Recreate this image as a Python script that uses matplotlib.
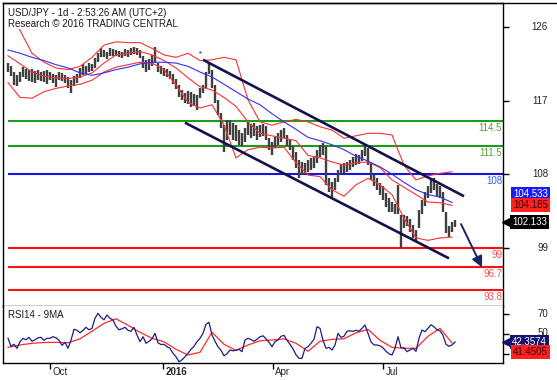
import numpy as np
import matplotlib.pyplot as plt
from matplotlib.transforms import blended_transform_factory

plt.rcParams['font.family'] = ['Liberation Sans', 'DejaVu Sans']

# daily bars (one entry per bar), USD/JPY
high = [121.6, 121.2, 120.5, 120.1, 120.5, 121.1, 120.9, 120.8, 120.9, 120.6,
        120.8, 120.5, 120.6, 120.8, 120.5, 120.3, 120.1, 120.5, 120.4, 120.1,
        119.9, 119.5, 120.0, 120.3, 121.0, 121.5, 121.2, 121.6, 121.5, 122.2,
        122.8, 123.4, 123.2, 123.0, 123.4, 123.3, 123.2, 123.1, 123.0, 123.3,
        123.2, 123.4, 123.6, 123.4, 123.2, 122.5, 122.0, 122.1, 122.6, 123.6,
        121.6, 121.2, 121.0, 120.9, 120.6, 120.3, 119.7, 118.9, 118.3, 117.9,
        118.2, 118.1, 117.8, 117.7, 118.5, 118.9, 120.5, 121.7, 120.8, 118.9,
        117.1, 115.5, 114.0, 114.6, 114.6, 114.3, 114.0, 113.4, 113.0, 113.7,
        114.4, 114.1, 114.3, 113.9, 114.0, 114.1, 113.9, 112.4, 111.9, 112.6,
        113.0, 113.4, 113.7, 112.8, 112.3, 111.4, 110.7, 109.7, 109.5, 109.4,
        109.7, 110.0, 110.1, 111.0, 111.6, 111.8, 111.4, 107.5, 107.0, 107.5,
        108.5, 109.2, 109.4, 109.5, 109.7, 110.1, 110.5, 110.3, 111.0, 111.6,
        111.2, 109.4, 107.9, 107.5, 106.9, 106.6, 105.7, 105.1, 104.6, 104.4,
        106.7, 103.0, 103.0, 102.9, 102.5, 101.8, 101.2, 103.6, 104.8, 105.8,
        106.6, 107.3, 107.5, 106.8, 106.6, 105.8, 103.4, 101.7, 102.1, 102.4]
low = [120.5, 120.0, 118.9, 118.8, 119.3, 119.9, 119.7, 119.4, 119.3, 119.2,
       119.5, 119.4, 119.3, 119.0, 119.5, 119.2, 118.7, 119.5, 119.4, 119.2,
       118.5, 117.9, 118.8, 119.2, 119.8, 120.1, 120.3, 120.5, 120.6, 121.0,
       121.7, 122.3, 122.3, 122.1, 122.5, 122.5, 122.5, 122.3, 122.2, 122.5,
       122.3, 122.6, 122.7, 122.6, 122.2, 121.0, 120.5, 120.8, 121.2, 121.6,
       120.5, 120.3, 120.0, 119.9, 119.7, 119.0, 118.4, 117.5, 117.1, 116.7,
       116.6, 116.2, 116.3, 115.9, 117.3, 117.9, 118.5, 120.3, 118.5, 116.7,
       115.2, 113.7, 110.7, 112.2, 112.8, 112.2, 112.1, 111.6, 111.4, 111.9,
       112.8, 112.4, 112.7, 112.2, 112.6, 112.7, 112.2, 111.0, 110.3, 111.2,
       111.6, 111.9, 112.4, 111.4, 111.0, 109.7, 108.8, 107.5, 107.9, 108.0,
       108.3, 108.5, 108.8, 109.4, 110.1, 110.3, 106.7, 105.8, 105.2, 106.1,
       107.0, 108.0, 108.1, 108.3, 108.5, 108.9, 109.1, 109.2, 109.6, 110.2,
       109.1, 107.3, 106.6, 106.1, 105.5, 104.8, 104.0, 103.4, 103.4, 103.1,
       103.1, 99.0, 101.4, 101.7, 100.9, 100.2, 99.7, 101.4, 103.1, 104.1,
       105.1, 105.7, 106.1, 105.3, 105.1, 103.4, 100.8, 100.3, 100.9, 101.5]
last_close = 102.133

# indicators, one value every 4 bars
ind_step = 4
bb_upper = [128.1, 125.6, 122.8, 121.7, 121.0, 120.8, 121.2, 122.3, 123.8, 124.2,
            124.1, 124.1, 123.4, 122.6, 122.3, 122.8, 121.9, 122.0, 122.3, 122.0,
            117.1, 114.4, 114.0, 114.4, 114.7, 114.4, 113.8, 113.4, 112.4, 112.7,
            113.0, 113.0, 112.8, 109.1, 107.3, 107.8, 108.1, 108.3]
bb_mid = [122.5, 121.5, 120.5, 120.0, 119.8, 119.7, 119.9, 120.4, 121.6, 122.6,
          122.8, 123.0, 122.6, 121.9, 121.0, 119.8, 118.7, 118.3, 117.4, 116.3,
          114.4, 113.0, 112.7, 112.4, 112.1, 110.3, 110.0, 109.5, 109.1, 109.4,
          109.5, 108.8, 107.3, 106.4, 105.5, 104.6, 104.5, 104.185]
bb_lower = [119.2, 117.4, 117.3, 118.1, 118.5, 118.8, 119.0, 119.5, 120.5, 121.1,
            121.4, 121.7, 121.6, 120.8, 118.9, 116.8, 116.1, 116.5, 114.0, 110.0,
            111.0, 111.3, 111.2, 111.3, 109.4, 107.9, 107.7, 106.1, 105.3, 106.7,
            107.5, 106.7, 105.5, 102.6, 100.2, 99.9, 100.2, 100.3]
ma_blue = [123.2, 122.8, 122.3, 121.9, 121.4, 121.0, 120.4, 120.1, 120.4, 120.8,
           121.1, 121.5, 121.7, 121.7, 121.6, 121.2, 120.5, 119.9, 119.0, 118.1,
           117.2, 116.5, 115.4, 114.4, 113.5, 112.5, 112.1, 111.6, 111.0, 110.2,
           109.6, 108.9, 108.0, 107.0, 106.1, 105.5, 105.2, 104.533]

rsi = [46, 38, 40, 36, 42.6, 46, 44.5, 47, 43, 44.5,
       46.5, 47, 44, 46, 46, 47.6, 46.5, 44, 39, 42,
       36, 44, 55, 54, 51.5, 54, 57, 54.5, 56, 66,
       71, 67, 64.5, 69.3, 66, 64.3, 58, 54.5, 55.5, 57,
       54, 53, 57, 49.3, 42.6, 47.6, 41, 43, 45.5, 51,
       41.5, 39.8, 40, 37.6, 36, 31, 27.5, 22.5, 24.5, 27.5,
       31, 35, 38, 42.6, 46, 51, 60, 62, 49.3, 43,
       37.5, 34, 28.5, 30.5, 34.3, 33.5, 34, 35, 32.6, 44.3,
       46, 44.8, 43, 45, 47.5, 48.5, 45.5, 42, 37.6, 42.6,
       44.3, 48, 49, 44, 40, 35.5, 29.5, 26, 26, 36,
       37.6, 41, 45, 57.6, 56, 44, 36, 37, 34.3, 39.3,
       51, 47, 48, 53, 53.5, 53, 54, 53, 56, 59.3,
       51, 42.5, 39.3, 39.3, 38.5, 36.5, 33, 30.5, 29.3, 36,
       47.6, 36.5, 36.5, 32.6, 34.3, 36, 33, 46, 54.3, 52.6,
       56, 59.5, 57.5, 54.5, 53.5, 49, 40, 38, 39.3, 42.3574]
rsi_ma = [37, 39.3, 41, 41.8, 42, 41.5, 45.5, 53, 61, 65.5,
          59, 52, 46, 42.5, 35, 29.3, 32, 52, 40, 34,
          39.3, 43.5, 44.3, 45.5, 41, 33, 43, 45, 45.5, 51.5,
          55, 44, 37, 36, 36, 48, 56, 41.4505]

levels = [114.5, 111.5, 108, 99, 96.7, 93.8]
level_text = ['114.5', '111.5', '108', '99', '96.7', '93.8']
level_color = ['#1c9c1c', '#1c9c1c', '#1414e6', '#ff1010', '#ff1010', '#ff1010']
level_font = ['#5f9c34', '#5f9c34', '#3a5cff', '#ff5050', '#ff5050', '#ff5050']

# trend channel and target arrow (bar index, price)
channel_top = [(65, 122.0), (152, 105.3)]
channel_bottom = [(59, 114.3), (147, 97.7)]
target_arrow = [(151, 101.9), (158, 96.6)]

month_pos = [14, 51.7, 88.3, 125]
month_lab = ['Oct', '2016', 'Apr', 'Jul']
price_ticks = [99, 108, 117, 126]
rsi_ticks = [30, 50, 70]
rsi_tick_lab = ['', '50', '70']   # 30 sits behind the value tags

W, H = 557, 380
fig = plt.figure(figsize=(W / 100, H / 100), dpi=100)
ax = fig.add_axes([3 / W, 1 - 306 / H, 500 / W, 303 / H])
ax2 = fig.add_axes([3 / W, 1 - 363 / H, 500 / W, 57 / H])
navy = '#12124e'

# price panel
bars = np.arange(len(high))
ax.vlines(bars, low, high, color='#404040', lw=1.7, zorder=3)
ix = np.arange(0, len(high), ind_step)
ax.plot(ix, bb_upper, color='#ff3030', lw=0.8, zorder=4)
ax.plot(ix, bb_mid, color='#ff3030', lw=0.8, zorder=4)
ax.plot(ix, bb_lower, color='#ff3030', lw=0.8, zorder=4)
ax.plot(ix, ma_blue, color='#3030ff', lw=0.8, zorder=4)

for lv, c in zip(levels, level_color):
    ax.hlines(lv, 0, 166, color=c, lw=1.5, zorder=2)
for seg in (channel_top, channel_bottom):
    ax.plot([seg[0][0], seg[1][0]], [seg[0][1], seg[1][1]], color=navy, lw=1.9,
            zorder=5, solid_capstyle='butt')
ax.annotate('', xy=target_arrow[1], xytext=target_arrow[0],
            arrowprops=dict(arrowstyle='-|>', color='#1a2366', lw=1.4,
                            mutation_scale=16, shrinkA=0, shrinkB=0), zorder=6)
ax.plot([64], [123.0], marker='.', ms=2, color='#888888', zorder=3)

ax.set_xlim(-1.667, 165)
ax.set_ylim(91.87, 128.95)
ax.set_xticks([])
ax.yaxis.tick_right()
ax.set_yticks(price_ticks)
ax.tick_params(axis='y', direction='out', length=4, width=1, labelright=False)
blend = blended_transform_factory(ax.transAxes, ax.transData)
for t in price_ticks:
    ax.text(1.09, t, str(t), transform=blend, ha='right', va='center',
            fontsize=7, color='#222222')
for lv, s, c in zip(levels, level_text, level_font):
    ax.annotate(s, xy=(0.998, lv), xycoords=blend, xytext=(0, -2),
                textcoords='offset pixels', ha='right', va='top',
                fontsize=7, color=c, zorder=7)

ax.text(0.01, 0.985, 'USD/JPY - 1d - 2:53:26 AM (UTC+2)', transform=ax.transAxes,
        ha='left', va='top', fontsize=7, color='#1a1a1a', zorder=8,
        bbox=dict(fc='white', ec='none', pad=0.5))
ax.text(0.01, 0.948, 'Research \u00a9 2016 TRADING CENTRAL', transform=ax.transAxes,
        ha='left', va='top', fontsize=7, color='#1a1a1a', zorder=8,
        bbox=dict(fc='white', ec='none', pad=0.5))

# value tags on the right
ax.annotate('104.533', xy=(1.055, ma_blue[-1]), xycoords=blend, xytext=(0, 9),
            textcoords='offset pixels', ha='center', va='center', fontsize=7,
            color='white', bbox=dict(boxstyle='square,pad=0.2', fc='#1a1aff', ec='none'),
            annotation_clip=False)
ax.annotate('104.185', xy=(1.055, bb_mid[-1]), xycoords=blend, xytext=(0, 0),
            textcoords='offset pixels', ha='center', va='center', fontsize=7,
            color='#300000', bbox=dict(boxstyle='square,pad=0.2', fc='#ff2020', ec='none'),
            annotation_clip=False)
ax.text(1.053, last_close, '102.133', transform=blend, ha='center', va='center',
        fontsize=7, color='white',
        bbox=dict(boxstyle='square,pad=0.2', fc='black', ec='none'))
ax.plot([1.007], [last_close], marker='<', ms=6, color='black', transform=blend,
        clip_on=False)

for sp in ax.spines.values():
    sp.set_linewidth(1.0)

# RSI panel
ax2.plot(bars, rsi, color='#1c1c8a', lw=0.9, zorder=3)
ax2.plot(ix, rsi_ma, color='#ff2a2a', lw=0.9, zorder=2)
ax2.set_xlim(-1.667, 165)
ax2.set_ylim(21.3, 78.3)
ax2.yaxis.tick_right()
ax2.set_yticks(rsi_ticks)
ax2.tick_params(axis='y', direction='out', length=4, width=1, labelright=False)
ax2.set_xticks(month_pos)
ax2.tick_params(axis='x', direction='out', length=4, width=1, labelbottom=False)
blend2 = blended_transform_factory(ax2.transAxes, ax2.transData)
for t, s in zip(rsi_ticks, rsi_tick_lab):
    if s:
        ax2.text(1.09, t + (1.5 if t == 50 else 0), s, transform=blend2,
                 ha='right', va='center', fontsize=7, color='#222222')
blendx = blended_transform_factory(ax2.transData, ax2.transAxes)
for p, s in zip(month_pos, month_lab):
    ax2.text(p + 0.8, -0.07, s, transform=blendx, ha='left', va='top', fontsize=7,
             color='#222222', fontweight='bold' if s == '2016' else 'normal')
ax2.text(0.01, 0.93, 'RSI14 - 9MA', transform=ax2.transAxes, ha='left', va='top',
         fontsize=7, color='#1a1a1a')

ax2.annotate('42.3574', xy=(1.053, rsi[-1]), xycoords=blend2, xytext=(0, 0),
             textcoords='offset pixels', ha='center', va='center', fontsize=7,
             color='white', zorder=8,
             bbox=dict(boxstyle='square,pad=0.2', fc='#14146e', ec='none'),
             annotation_clip=False)
ax2.plot([1.007], [rsi[-1]], marker='<', ms=6, color='#14146e', transform=blend2,
         clip_on=False, zorder=8)
ax2.annotate('41.4505', xy=(1.055, rsi_ma[-1]), xycoords=blend2, xytext=(0, -9),
             textcoords='offset pixels', ha='center', va='center', fontsize=7,
             color='#300000', zorder=8,
             bbox=dict(boxstyle='square,pad=0.2', fc='#ff2020', ec='none'),
             annotation_clip=False)
for sp in ax2.spines.values():
    sp.set_linewidth(1.0)
ax2.spines['top'].set_visible(False)

# outer top border across the whole width
fig.add_artist(plt.Line2D([3 / W, 1], [1 - 3 / H, 1 - 3 / H], color='black', lw=1.0))

fig.savefig('out.png', dpi=100)
